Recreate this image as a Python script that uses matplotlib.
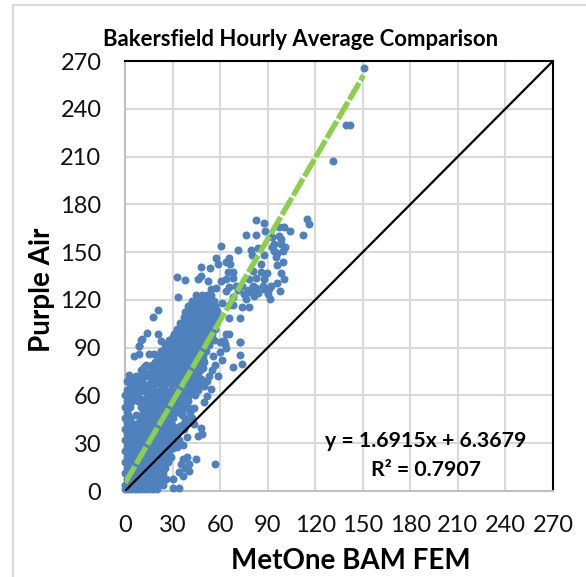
import matplotlib.pyplot as plt
from matplotlib.lines import Line2D

plt.rcParams["font.family"] = ["Lato", "DejaVu Sans"]

ticks = [0, 30, 60, 90, 120, 150, 180, 210, 240, 270]

# trend line and 1:1 line end points
trend_x = [0, 150.5]
trend_y = [5.0, 261.0]
one_to_one = [0, 270]

upper_x = [151, 139.7, 142, 131, 82.6, 87.6, 88.4, 76.5, 82.6, 104.4, 100.4, 97.3, 115, 112.6, 116,
           60.5, 71.4, 79.4, 80, 83.6, 87.4, 93, 98.3, 94.1, 94.1, 99.4, 96.2, 98.7, 57.4, 58.4,
           65.8, 63.7, 66.2, 47.7, 53.6, 85.7, 96.2, 99.4, 80.5, 64.7, 67.9, 85.7, 89.3, 98.5,
           32.6, 37.6, 45.8, 47.9, 52.1, 100.4, 96.2, 60.5, 63.7, 67.9, 78.4, 82.6, 87.8, 80.5,
           77.5, 82.6, 86.8, 91, 97.5, 91.4, 81.5, 76.2, 73.5, 78.4, 72.5, 65.8, 65.5, 68,
           63.7, 65.8, 57.4, 54.2, 72.5, 65.8, 63.7, 62.6, 59.9, 33.6, 20.6, 17.4, 13.7, 10.5,
           8.6, 20.6, 23, 26, 75, 71, 74, 79, 84, 88, 68, 70, 61, 58, 93, 95, 90, 92, 101, 97]
upper_y = [265.4, 230, 230, 207.5, 170.3, 168.2, 163.4, 160.9, 161, 163.4, 165.5, 165.5, 170.7, 161, 167.6,
           153.7, 151.2, 151.4, 148, 152.3, 148.3, 159.2, 158.1, 155, 150.8, 150.8, 149.7, 155, 146, 142.4,
           146.2, 143.5, 142.4, 140.9, 139.9, 142.4, 142, 143.5, 138.2, 137.2, 137.2, 137.2, 136.8, 136.8,
           134.2, 132.8, 133, 135, 131.9, 133, 130.9, 131.9, 133, 134, 133, 134, 133, 128.5,
           126.5, 127.5, 128.5, 127, 125.6, 120.4, 122.5, 120.4, 115.8, 115.8, 108.9, 108.4, 116.5, 117,
           125.5, 128, 127.5, 127, 93.8, 98.8, 98.4, 94.2, 93.8, 122, 113.7, 109.5, 99.4, 95.2,
           91, 98.8, 94, 92, 124, 126, 129, 125, 124.5, 127, 122, 129, 118, 113, 153, 147, 124, 129, 153, 160]

lower_x = [56.5, 44.7, 38.9, 36.8, 40.5, 35.3, 38, 34.2, 36.8, 40.5, 30.5, 33.8, 30.5, 36.8, 32.6,
           45.8, 48.5, 47.9, 43.7, 38.9, 35.9, 43.7, 40.5, 37.5, 52, 50, 54.2, 51.5, 58.6, 67.9,
           73.7, 72.5, 55.7, 59.9, 72.6, 61.6, 47.5, 44.7, 5.9, 9, 15.3, 11.8, 2.7, 9, 10,
           64, 61, 57, 63, 55, 53, 50]
lower_y = [16.8, 20, 21.6, 20, 16.8, 16.8, 14.7, 12, 9.4, 12.6, 7.3, 1.7, 1.7, 28.7, 27.9,
           34.6, 35.6, 39.8, 41.9, 34, 40.9, 52.4, 52.4, 55.5, 59.7, 55.6, 64, 69.2, 71.9, 77.6,
           79.7, 85.5, 84.9, 87, 93.7, 94.3, 76, 69, 84.5, 86, 86, 78, 73, 91, 94.8,
           90, 82, 79, 92, 76, 72, 66]

# cloud body, one list of x values for each y level
body_y = [1, 4, 7.5, 11, 14.5, 18, 21.5, 25, 28.5, 32, 35.5, 39, 42.5, 46, 49.5, 53, 56.5, 60,
          63.5, 67, 70.5, 74, 77.5, 81, 84.5, 88, 91.5, 95, 98.5, 102, 105.5, 109, 112.5, 116, 119.5, 123]
body_x = [
    [0, 2, 4, 6, 8, 10, 12.5, 15, 17.5, 20],
    [0, 3, 6.5, 10, 13.5, 17, 20, 24],
    [1, 4.5, 8, 11.5, 15, 18.5, 22, 26],
    [0, 3, 6.5, 10, 13.5, 17, 20.5, 24],
    [1, 4.5, 8, 11.5, 15, 18.5, 22, 25],
    [0, 3, 6.5, 10, 13.5, 17, 20.5, 24, 27],
    [1, 4.5, 8, 11.5, 15, 18.5, 22, 25.5, 29],
    [0, 3, 6.5, 10, 13.5, 17, 20.5, 24, 27.5],
    [1, 4.5, 8, 11.5, 15, 18.5, 22, 25.5, 29],
    [0, 3, 6.5, 10, 13.5, 17, 20.5, 24, 27.5, 31, 34],
    [1, 4.5, 8, 11.5, 15, 18.5, 22, 25.5, 29, 32.5],
    [0, 3, 6.5, 10, 13.5, 17, 20.5, 24, 27.5, 31, 34, 37],
    [1, 4.5, 8, 11.5, 15, 18.5, 22, 25.5, 29, 37, 40],
    [0, 3, 10, 13.5, 17, 20.5, 24, 27.5, 30.5, 38, 42],
    [1, 11.5, 15, 18.5, 22, 25.5, 29, 32.5, 36, 41],
    [0, 3, 10, 13.5, 17, 20.5, 24, 27.5, 31, 34.5, 38],
    [1, 4.5, 8, 15, 18.5, 22, 25.5, 29, 32.5, 36, 40],
    [0, 3.5, 7, 16, 19.5, 23, 26.5, 30, 33.5, 37, 40.5, 44],
    [1, 4.5, 8, 11.5, 15, 18.5, 22, 25.5, 29, 32.5, 36, 39.5, 43, 46],
    [3, 6.5, 15, 18.5, 22, 25.5, 29, 32.5, 36, 39.5, 43, 47],
    [4, 8, 17, 20.5, 24, 27.5, 31, 34.5, 38, 41.5, 45, 48],
    [14, 18, 21.5, 25, 28.5, 32, 35.5, 39, 42.5, 46],
    [17, 20.5, 24, 27.5, 31, 34.5, 38, 41.5, 45, 49],
    [19, 22.5, 26, 29.5, 33, 36.5, 40, 43.5, 47, 50],
    [21, 24.5, 28, 31.5, 35, 38.5, 42, 45.5, 49],
    [23, 26.5, 30, 33.5, 37, 40.5, 44, 47.5, 51],
    [25, 28.5, 32, 35.5, 39, 42.5, 46, 49.5, 53],
    [28, 31.5, 35, 38.5, 42, 45.5, 49, 52.5, 56],
    [31, 34.5, 38, 41.5, 45, 48.5, 52, 55],
    [33, 36.5, 40, 43.5, 47, 50.5, 54, 57],
    [35, 38.5, 42, 45.5, 49, 52.5, 56],
    [37, 40.5, 44, 47.5, 51, 54.5, 58],
    [38, 41.5, 45, 48.5, 52, 55.5],
    [40, 43.5, 47, 50.5, 54, 57],
    [42, 45.5, 49, 52.5, 56],
    [45, 48.5, 52, 54],
]

# extra points where the reference cloud is solid, one list per y level
fill_y = [6, 13, 20, 27, 34, 41, 48, 55, 58, 62, 65, 69, 72, 76, 79, 83, 86, 90, 97, 104, 111, 118]
fill_x = [
    [2.5, 9, 16, 22],
    [2.5, 9, 16, 22],
    [2.5, 9, 16, 23, 27],
    [2.5, 9, 16, 23, 30],
    [2.5, 9, 16, 23, 30],
    [2.5, 9, 16, 23, 30, 35],
    [2, 7, 16, 23, 30, 36],
    [2, 12, 20, 27, 34],
    [10, 13],
    [2.5, 9, 13, 20, 27, 34, 41],
    [10, 13],
    [1, 6, 11, 20, 27, 34, 41],
    [7, 11, 14],
    [10, 20, 27, 34, 41, 47],
    [13, 17],
    [22, 29, 36, 43, 49],
    [18, 22],
    [27, 34, 41, 48],
    [30, 37, 44, 51],
    [36, 43, 50],
    [39, 46, 53],
    [44, 51],
]

pm_x = upper_x + lower_x + [x for row in body_x + fill_x for x in row]
pm_y = (upper_y + lower_y + [y for y, row in zip(body_y, body_x) for _ in row]
        + [y for y, row in zip(fill_y, fill_x) for _ in row])

fig = plt.figure(figsize=(5.86, 5.77), dpi=100)
ax = fig.add_axes([125 / 586, 86 / 577, 428 / 586, 430 / 577])

# outer chart frame
fig.add_artist(Line2D([13 / 586, 13 / 586, 1], [0, 572 / 577, 572 / 577], color="#d9d9d9", lw=1.5))

ax.scatter(pm_x, pm_y, s=33, color="#4f81bd", linewidths=0, zorder=3, clip_on=False)
ax.plot(one_to_one, one_to_one, color="black", lw=1.6, zorder=4)
ax.plot(trend_x, trend_y, color="#8ccf4d", lw=3.9, ls=(0, (3.6, 0.5)), zorder=5)

ax.set_xlim(0, 270)
ax.set_ylim(0, 270)
ax.set_xticks(ticks)
ax.set_yticks(ticks)
ax.grid(color="#d9d9d9", lw=1.5, zorder=0)
ax.set_axisbelow(True)
ax.tick_params(length=0, labelsize=17, pad=17, labelcolor="#111111")
for side in ["left", "bottom"]:
    ax.spines[side].set_color("#bfbfbf")
    ax.spines[side].set_linewidth(1.5)
for side in ["top", "right"]:
    ax.spines[side].set_color("black")
    ax.spines[side].set_linewidth(1.5)

ax.set_xlabel("MetOne BAM FEM", fontsize=20, fontweight="bold", labelpad=9, x=0.528)
ax.set_ylabel("Purple Air", fontsize=20, fontweight="bold", labelpad=4, y=0.467)
fig.text(301 / 586, 1 - 39 / 577, "Bakersfield Hourly Average Comparison", fontsize=15.9,
         fontweight="bold", ha="center", va="center")
ax.text(190, 31.5, "y = 1.6915x + 6.3679", fontsize=15.3, fontweight="bold", ha="center", va="center")
ax.text(190, 13, "R² = 0.7907", fontsize=15.3, fontweight="bold", ha="center", va="center")

plt.savefig("out.png", dpi=100)
